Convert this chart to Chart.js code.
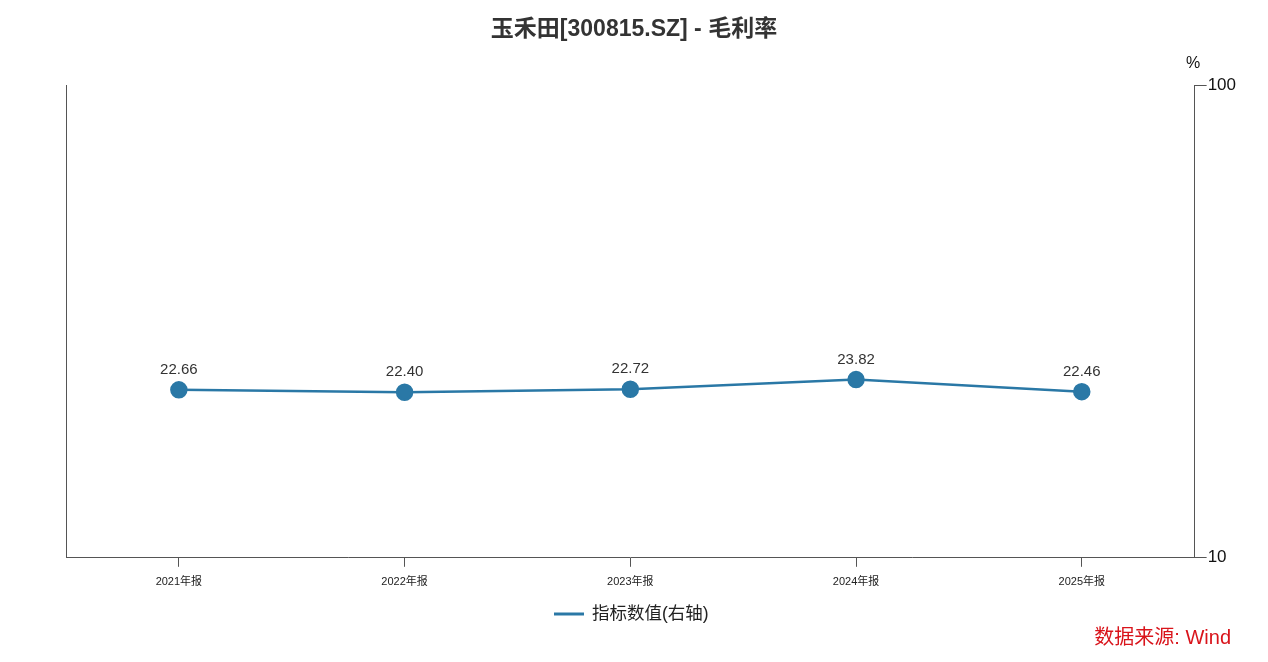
<!DOCTYPE html>
<html><head><meta charset="utf-8">
<script src="https://cdn.jsdelivr.net/npm/chart.js@4/dist/chart.umd.min.js"></script>
<style>html,body{margin:0;padding:0;background:#fff}#wrap{width:1268px;height:662px;position:relative}</style>
</head><body><div id="wrap"><canvas id="c" width="1268" height="662"></canvas></div>
<script>
const categories = ['2021年报','2022年报','2023年报','2024年报','2025年报'];
const values = [22.66, 22.40, 22.72, 23.82, 22.46];
const yTicks = [10, 100];
const titleText = '玉禾田[300815.SZ] - 毛利率';
const legendText = '指标数值(右轴)';
const sourceText = '数据来源: Wind';
const unitText = '%';
const LINE = '#2a78a6';
const FONT = '"Liberation Sans", "Noto Sans CJK SC", sans-serif';

const overlay = {
  id: 'overlay',
  afterDraw(chart) {
    const ctx = chart.ctx, ca = chart.chartArea;
    ctx.save();
    // title
    ctx.fillStyle = '#333';
    ctx.font = 'bold 23px ' + FONT;
    ctx.textAlign = 'center'; ctx.textBaseline = 'middle';
    ctx.fillText(titleText, 634, 30);
    // unit
    ctx.font = '16px ' + FONT;
    ctx.fillStyle = '#111';
    ctx.fillText(unitText, 1193, 64);
    // data labels
    const meta = chart.getDatasetMeta(0);
    ctx.font = '15px ' + FONT;
    ctx.fillStyle = '#333';
    ctx.textBaseline = 'middle';
    meta.data.forEach((pt, i) => {
      ctx.fillText(values[i].toFixed(2), pt.x, pt.y - 20);
    });
    // legend
    ctx.strokeStyle = LINE; ctx.lineWidth = 3;
    ctx.beginPath(); ctx.moveTo(554, 614); ctx.lineTo(584, 614); ctx.stroke();
    ctx.fillStyle = '#222'; ctx.font = '17.5px ' + FONT;
    ctx.textAlign = 'left';
    ctx.fillText(legendText, 592, 614);
    // source
    ctx.fillStyle = '#d9141b'; ctx.font = '20px ' + FONT;
    ctx.textAlign = 'right';
    ctx.fillText(sourceText, 1231, 638);
    ctx.restore();
  }
};

new Chart(document.getElementById('c'), {
  type: 'line',
  data: {
    labels: categories,
    datasets: [{
      data: values,
      yAxisID: 'y',
      borderColor: LINE,
      backgroundColor: LINE,
      borderWidth: 2.5,
      pointRadius: 7.5,
      pointHoverRadius: 7.5,
      tension: 0,
      fill: false
    }]
  },
  options: {
    responsive: false,
    animation: false,
    events: [],
    layout: { padding: { top: 85, left: 66, right: 31, bottom: 64 } },
    plugins: { legend: { display: false }, title: { display: false }, tooltip: { enabled: false } },
    scales: {
      x: {
        offset: true,
        grid: { display: true, drawOnChartArea: false, drawTicks: true, tickLength: 9, color: '#555' },
        border: { display: true, color: '#555', width: 1 },
        ticks: { color: '#222', font: { size: 11, family: FONT }, padding: 9, maxRotation: 0 }
      },
      y: {
        type: 'logarithmic',
        position: 'right',
        min: 10, max: 100,
        afterBuildTicks(axis) { axis.ticks = yTicks.map(v => ({ value: v })); },
        grid: { drawOnChartArea: false, drawTicks: true, tickLength: 12, color: '#555' },
        border: { display: true, color: '#555', width: 1 },
        ticks: { color: '#111', font: { size: 17, family: FONT }, padding: 1, callback: v => String(v) }
      },
      yl: {
        type: 'linear',
        position: 'left',
        min: 0, max: 1,
        grid: { display: false, drawTicks: false },
        border: { display: true, color: '#555', width: 1 },
        ticks: { display: false }
      }
    }
  },
  plugins: [overlay]
});
</script></body></html>
